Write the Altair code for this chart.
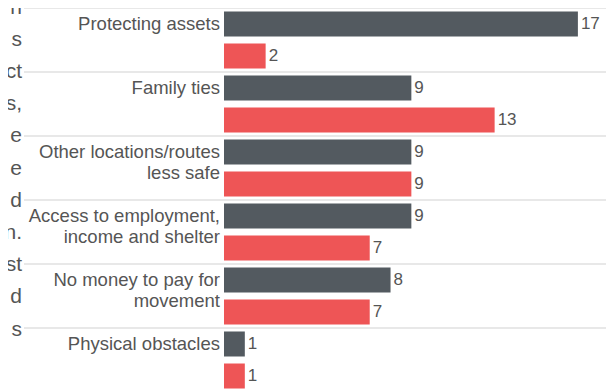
import altair as alt
import pandas as pd

categories = [
    "Protecting assets",
    "Family ties",
    "Other locations/routes\nless safe",
    "Access to employment,\nincome and shelter",
    "No money to pay for\nmovement",
    "Physical obstacles",
]
series_names = ["Series 1", "Series 2"]
values_1 = [17, 9, 9, 9, 8, 1]
values_2 = [2, 13, 9, 7, 7, 1]
side_fragments = ["n", "s", "ct", "s,", "e", "e", "d", "n.", "st", "d", "s"]

colors = ["#535a60", "#ee5556"]
text_color = "#555555"
font = "Liberation Sans"

rows = []
for c, v1, v2 in zip(categories, values_1, values_2):
    rows.append({"cat": c, "series": series_names[0], "value": v1})
    rows.append({"cat": c, "series": series_names[1], "value": v2})
df = pd.DataFrame(rows)

y_enc = alt.Y("cat:N", sort=categories, axis=None,
              scale=alt.Scale(domain=categories, paddingInner=0, paddingOuter=0))
yoff_enc = alt.YOffset("series:N", sort=series_names,
                       scale=alt.Scale(domain=series_names, paddingInner=0.21875, paddingOuter=0.109))
x_enc = alt.X("value:Q", axis=None, scale=alt.Scale(domain=[0, 18.35], nice=False))

base = alt.Chart(df)

separators = base.transform_filter(alt.datum.series == series_names[0]).mark_rule(
    color="#e8e8e8", strokeWidth=2
).encode(
    y=alt.Y("cat:N", sort=categories, axis=None, bandPosition=0,
            scale=alt.Scale(domain=categories, paddingInner=0, paddingOuter=0)),
    x=alt.value(-200),
    x2=alt.value(382),
)

bars = base.mark_bar().encode(
    y=y_enc,
    yOffset=yoff_enc,
    x=x_enc,
    color=alt.Color("series:N", sort=series_names, legend=None,
                    scale=alt.Scale(domain=series_names, range=colors)),
)

values = base.mark_text(
    align="left", baseline="middle", dx=3, fontSize=17, font=font, color=text_color
).encode(
    y=y_enc,
    yOffset=yoff_enc,
    x=x_enc,
    text=alt.Text("value:Q"),
)

labels = base.transform_filter(alt.datum.series == series_names[0]).mark_text(
    align="right", baseline="alphabetic", dy=6, lineBreak="\n", lineHeight=21.5,
    fontSize=18.5, font=font, color=text_color
).encode(
    y=y_enc,
    yOffset=yoff_enc,
    x=alt.value(-4),
    text=alt.Text("cat:N"),
)

fragments = alt.Chart(pd.DataFrame({"k": [0]})).mark_text(
    text=side_fragments, align="right", baseline="alphabetic", lineHeight=32.2,
    fontSize=21, font=font, color=text_color
).encode(
    x=alt.value(-202),
    y=alt.value(5.5),
)

chart = alt.layer(separators, bars, values, labels, fragments).properties(
    width=382,
    height=384,
    autosize=alt.AutoSizeParams(type="none"),
    padding={"left": 216, "top": 0, "right": 0, "bottom": 0},
).configure_view(stroke=None)

chart.save("out.html", embed_options={"renderer": "svg", "actions": False})
